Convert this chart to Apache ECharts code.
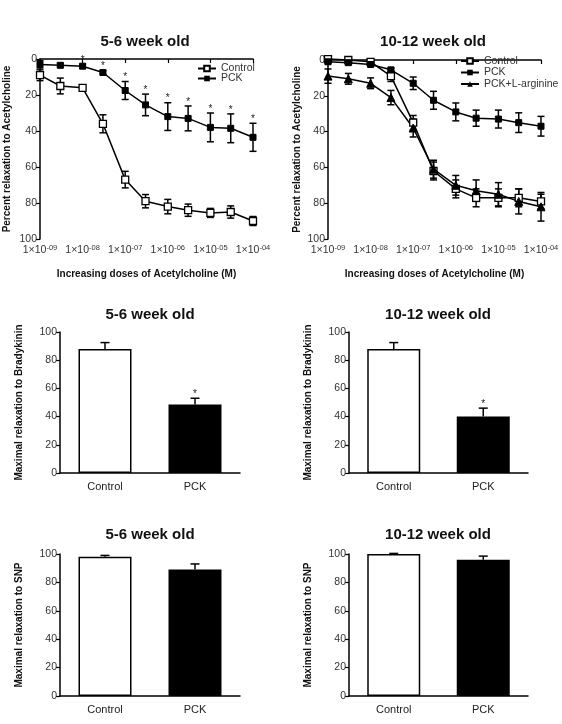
<!DOCTYPE html>
<html>
<head>
<meta charset="utf-8">
<script src="https://cdn.jsdelivr.net/npm/echarts@6/dist/echarts.min.js"></script>
<style>
html,body{margin:0;padding:0;background:#fff;}
#c{width:562px;height:724px;}
</style>
</head>
<body>
<div id="c"></div>
<script>
// ---- data ----
const doses = [1e-9, 3e-9, 1e-8, 3e-8, 1e-7, 3e-7, 1e-6, 3e-6, 1e-5, 3e-5, 1e-4];

const ctrl56 = [9, 15, 16, 36, 67, 79, 82, 84, 85.5, 85, 90];
const ctrl56Err = [3, 4.4, 1, 5, 4.6, 3.7, 4, 3.4, 2.5, 3.4, 2.5];
const pck56 = [3, 3.5, 4, 7.5, 17.5, 25.5, 32, 33, 38, 38.5, 43.5];
const pck56Err = [2, 1, 1, 1, 5, 6, 7.7, 6.9, 8, 8, 7.8];
const pck56Star = [0, 0, 1, 1, 1, 1, 1, 1, 1, 1, 1];

const ctrl1012 = [-0.5, 0, 1, 9, 35, 62, 72, 77, 77, 77, 79];
const ctrl1012Err = [1, 1, 1, 3, 4, 5, 5, 5, 5, 5, 4];
const pck1012 = [1, 1.5, 2.5, 5.5, 13, 22.5, 29, 32.5, 33, 35, 37];
const pck1012Err = [1, 1, 1, 1, 3.5, 5, 5, 4.5, 5, 5.5, 5.5];
const arg1012 = [9, 10.5, 13, 21, 38, 61, 70, 73, 75, 79, 82];
const arg1012Err = [4, 3, 3, 4, 5, 5, 5.5, 6, 6.5, 7, 8];

const barCats = ['Control', 'PCK'];
const bk56 = [88, 48.5];
const bk56Err = [4.5, 4.5];
const bk56Star = [0, 1];
const bk1012 = [88, 40];
const bk1012Err = [4.5, 6];
const bk1012Star = [0, 1];
const snp56 = [98, 89];
const snp56Err = [1, 4];
const snp1012 = [100, 96];
const snp1012Err = [0.4, 2.5];

const titles = ['5-6 week old', '10-12 week old'];
// ---- end data ----

const FONT = '"Liberation Sans", Arial, sans-serif';
const chart = echarts.init(document.getElementById('c'), null, {renderer: 'canvas'});

function pairs(xs, ys, es, stars) {
  return xs.map((x, i) => [x, ys[i], es[i], stars ? stars[i] : 0]);
}

function errRender(both, capHalf) {
  return function (params, api) {
    const x = api.value(0), y = api.value(1), e = api.value(2), s = api.value(3);
    const pTop = api.coord([x, y + e]);
    const pBot = api.coord([x, both ? y - e : y]);
    const children = [
      {type: 'line', shape: {x1: pTop[0], y1: pTop[1], x2: pBot[0], y2: pBot[1]}, style: {stroke: '#000', lineWidth: 1.5}},
      {type: 'line', shape: {x1: pTop[0] - capHalf, y1: pTop[1], x2: pTop[0] + capHalf, y2: pTop[1]}, style: {stroke: '#000', lineWidth: 1.5}}
    ];
    if (both) {
      children.push({type: 'line', shape: {x1: pBot[0] - capHalf, y1: pBot[1], x2: pBot[0] + capHalf, y2: pBot[1]}, style: {stroke: '#000', lineWidth: 1.5}});
    }
    if (s) {
      const yMin = Math.min(pTop[1], pBot[1]);
      children.push({type: 'text', style: {text: '*', x: pTop[0], y: yMin - 4, align: 'center', verticalAlign: 'middle', font: '10px ' + FONT, fill: '#222'}});
    }
    return {type: 'group', children: children};
  };
}

function logLabel(v) {
  const e = Math.round(Math.log10(v));
  return '1×10{s|' + (e < 0 ? '-' : '') + String(Math.abs(e)).padStart(2, '0') + '}';
}

const axisLineBlack = {show: true, lineStyle: {color: '#000', width: 1.5}};
const tickBlack = {show: true, length: 4, lineStyle: {color: '#000', width: 1.2}};

function topX(gi) {
  return {
    type: 'log', logBase: 10, gridIndex: gi, min: 1e-9, max: 1e-4, splitNumber: 5,
    axisLine: axisLineBlack, axisTick: tickBlack, splitLine: {show: false},
    axisLabel: {formatter: logLabel, fontFamily: FONT, fontSize: 10.5, color: '#333', margin: 5,
      rich: {s: {fontSize: 7.5, verticalAlign: 'top', padding: [0, 0, 5, 0], color: '#333', fontFamily: FONT}}},
    name: 'Increasing doses of Acetylcholine (M)', nameLocation: 'middle', nameGap: 30,
    nameTextStyle: {fontFamily: FONT, fontSize: 10, fontWeight: 'bold', color: '#111'}
  };
}
function topY(gi, gap) {
  return {
    type: 'value', gridIndex: gi, inverse: true, min: 0, max: 100, interval: 20,
    axisLine: axisLineBlack, axisTick: tickBlack, splitLine: {show: false},
    axisLabel: {fontFamily: FONT, fontSize: 10.5, color: '#333', margin: 3},
    name: 'Percent relaxation to Acetylcholine', nameLocation: 'middle', nameGap: gap,
    nameTextStyle: {fontFamily: FONT, fontSize: 10, fontWeight: 'bold', color: '#111'}
  };
}
function barX(gi) {
  return {
    type: 'category', gridIndex: gi, data: barCats,
    axisLine: axisLineBlack, axisTick: {show: false},
    axisLabel: {fontFamily: FONT, fontSize: 11, color: '#222', margin: 8}
  };
}
function barY(gi, name, gap) {
  return {
    type: 'value', gridIndex: gi, min: 0, max: 100, interval: 20,
    axisLine: axisLineBlack, axisTick: tickBlack, splitLine: {show: false},
    axisLabel: {fontFamily: FONT, fontSize: 10.5, color: '#333', margin: 3},
    name: name, nameLocation: 'middle', nameGap: gap,
    nameTextStyle: {fontFamily: FONT, fontSize: 10, fontWeight: 'bold', color: '#111'}
  };
}

const ctrlStyle = {symbol: 'rect', symbolSize: 7, itemStyle: {color: '#fff', borderColor: '#000', borderWidth: 1.3}};
const pckStyle = {symbol: 'rect', symbolSize: 6, itemStyle: {color: '#000', borderColor: '#000'}};
const argStyle = {symbol: 'triangle', symbolSize: 8, itemStyle: {color: '#000', borderColor: '#000'}};

function lineSeries(name, gi, ys, st) {
  return Object.assign({
    type: 'line', name: name, xAxisIndex: gi, yAxisIndex: gi, z: 3, clip: false,
    data: doses.map((d, i) => [d, ys[i]]),
    lineStyle: {color: '#000', width: 1.5}, showSymbol: true, animation: false
  }, st);
}
function errSeries(gi, ys, es, stars, both, cap) {
  return {
    type: 'custom', xAxisIndex: gi, yAxisIndex: gi, z: 2, clip: false, animation: false, silent: true,
    renderItem: errRender(both, cap),
    encode: {x: 0, y: 1},
    data: pairs(gi < 2 ? doses : barCats, ys, es, stars)
  };
}
function barSeries(gi, ys) {
  return {
    type: 'bar', xAxisIndex: gi, yAxisIndex: gi, barWidth: 53, z: 2, animation: false,
    data: ys.map((v, i) => ({value: v, itemStyle: i === 0 ? {color: '#fff', borderColor: '#000', borderWidth: 1.5} : {color: '#000', borderColor: '#000', borderWidth: 1.5}}))
  };
}

const legendText = {fontFamily: FONT, fontSize: 10.5, color: '#333'};

const option = {
  animation: false,
  backgroundColor: '#fff',
  grid: [
    {left: 40, top: 59, width: 213, height: 180},
    {left: 328, top: 60, width: 213, height: 179},
    {left: 60, top: 332, width: 180, height: 141},
    {left: 349, top: 332, width: 179, height: 141},
    {left: 60, top: 554, width: 180, height: 142},
    {left: 349, top: 554, width: 179, height: 142}
  ],
  xAxis: [topX(0), topX(1), barX(2), barX(3), barX(4), barX(5)],
  yAxis: [
    topY(0, 28), topY(1, 26),
    barY(2, 'Maximal relaxation to Bradykinin', 36),
    barY(3, 'Maximal relaxation to Bradykinin', 36),
    barY(4, 'Maximal relaxation to SNP', 36),
    barY(5, 'Maximal relaxation to SNP', 36)
  ],
  legend: [
    {data: ['Control', 'PCK'], orient: 'vertical', left: 197, top: 63, itemWidth: 18, itemHeight: 7, itemGap: -1, textStyle: legendText, padding: 0, selectedMode: false},
    {data: ['Control', 'PCK', 'PCK+L-arginine'], orient: 'vertical', left: 460, top: 55.5, itemWidth: 18, itemHeight: 7, itemGap: 0.5, textStyle: legendText, padding: 0, selectedMode: false}
  ],
  graphic: [
    {type: 'text', x: 145, y: 42, style: {text: titles[0], font: 'bold 15px ' + FONT, fill: '#111', align: 'center', verticalAlign: 'middle'}},
    {type: 'text', x: 433, y: 42, style: {text: titles[1], font: 'bold 15px ' + FONT, fill: '#111', align: 'center', verticalAlign: 'middle'}},
    {type: 'text', x: 150, y: 315, style: {text: titles[0], font: 'bold 15px ' + FONT, fill: '#111', align: 'center', verticalAlign: 'middle'}},
    {type: 'text', x: 438, y: 315, style: {text: titles[1], font: 'bold 15px ' + FONT, fill: '#111', align: 'center', verticalAlign: 'middle'}},
    {type: 'text', x: 150, y: 535, style: {text: titles[0], font: 'bold 15px ' + FONT, fill: '#111', align: 'center', verticalAlign: 'middle'}},
    {type: 'text', x: 438, y: 535, style: {text: titles[1], font: 'bold 15px ' + FONT, fill: '#111', align: 'center', verticalAlign: 'middle'}}
  ],
  series: [
    errSeries(0, ctrl56, ctrl56Err, null, true, 3.5),
    errSeries(0, pck56, pck56Err, pck56Star, true, 3.5),
    lineSeries('Control', 0, ctrl56, ctrlStyle),
    lineSeries('PCK', 0, pck56, pckStyle),

    errSeries(1, ctrl1012, ctrl1012Err, null, true, 3.5),
    errSeries(1, pck1012, pck1012Err, null, true, 3.5),
    errSeries(1, arg1012, arg1012Err, null, true, 3.5),
    lineSeries('Control', 1, ctrl1012, ctrlStyle),
    lineSeries('PCK', 1, pck1012, pckStyle),
    lineSeries('PCK+L-arginine', 1, arg1012, argStyle),

    barSeries(2, bk56), Object.assign(errSeries(2, bk56, bk56Err, bk56Star, false, 4.5), {z: 1}),
    barSeries(3, bk1012), Object.assign(errSeries(3, bk1012, bk1012Err, bk1012Star, false, 4.5), {z: 1}),
    barSeries(4, snp56), Object.assign(errSeries(4, snp56, snp56Err, null, false, 4.5), {z: 1}),
    barSeries(5, snp1012), Object.assign(errSeries(5, snp1012, snp1012Err, null, false, 4.5), {z: 1})
  ]
};
chart.setOption(option);
</script>
</body>
</html>
